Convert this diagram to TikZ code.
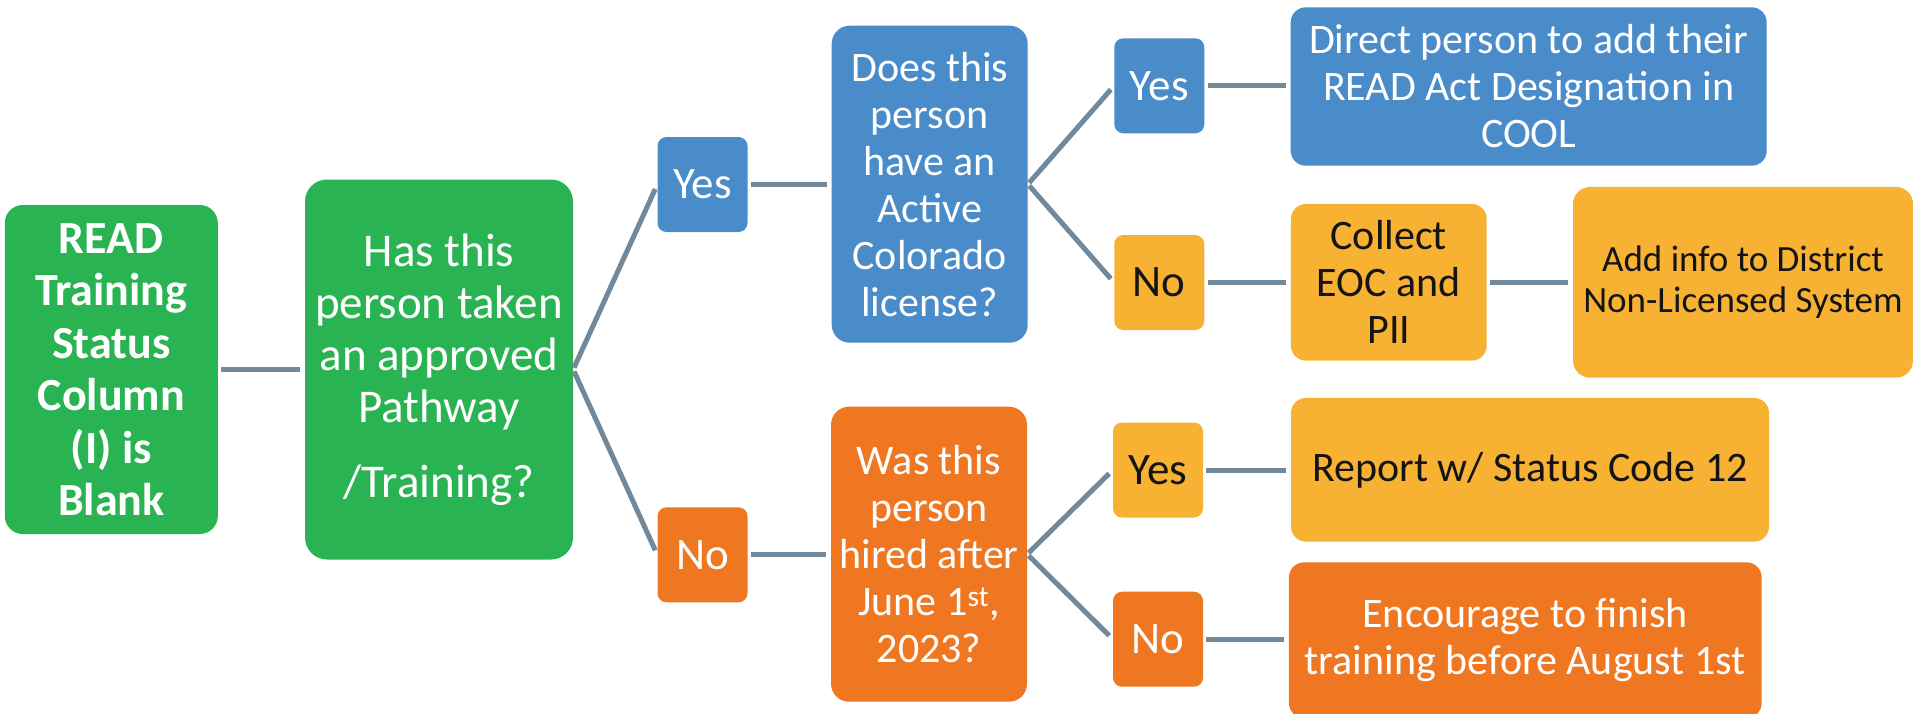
\documentclass[tikz,border=0pt]{standalone}
\usepackage{fontspec}
\setmainfont{Carlito}
\definecolor{boxgreen}{RGB}{41,179,82}
\definecolor{boxblue}{RGB}{74,139,201}
\definecolor{boxyellow}{RGB}{247,178,52}
\definecolor{boxorange}{RGB}{239,119,34}
\definecolor{linegray}{RGB}{114,137,156}
\definecolor{darktext}{RGB}{20,20,20}
\begin{document}
\begin{tikzpicture}[x=1pt,y=-1pt,
  box/.style={rectangle, rounded corners=18pt, inner sep=0pt, align=center,
              font=\fontsize{42}{47}\selectfont},
  tag/.style={box, rounded corners=9pt, minimum width=90pt, minimum height=95pt,
              font=\fontsize{45}{50}\selectfont},
  green/.style={fill=boxgreen, text=white},
  blue/.style={fill=boxblue, text=white},
  yellow/.style={fill=boxyellow, text=darktext},
  orange/.style={fill=boxorange, text=white},
  conn/.style={draw=linegray, line width=5pt, shorten <=3pt, shorten >=5pt}]
\useasboundingbox (0,0) rectangle (1913,713);

% first column: the starting state and the pathway question
\node[box, green, minimum width=213pt, minimum height=329pt,
      font=\fontsize{46}{52.5}\selectfont\bfseries] (read) at (111.3,369.5)
  {READ\\Training\\Status\\Column\\(I) is\\Blank};
\node[box, green, rounded corners=22pt, minimum width=268pt, minimum height=380pt,
      font=\fontsize{47}{52}\selectfont] (pathway) at (439,369.5)
  {Has this\\person taken\\an approved\\Pathway\\[23pt]/Training?};

% answers to the pathway question
\node[tag, blue] (yes1) at (702.5,184.5) {Yes};
\node[tag, orange] (no1) at (702.5,554.8) {No};

% second-level questions
\node[box, blue, minimum width=196pt, minimum height=317pt] (license) at (929.7,184.2)
  {Does this\\person\\have an\\Active\\Colorado\\license?};
\node[box, orange, minimum width=196pt, minimum height=295pt] (hired) at (929,554.2)
  {Was this\\person\\hired after\\June 1\textsuperscript{st},\\2023?};

% answers to the second-level questions
\node[tag, blue] (yes2) at (1159.3,85.8) {Yes};
\node[tag, yellow] (no2) at (1159.3,282.5) {No};
\node[tag, yellow] (yes3) at (1158,470) {Yes};
\node[tag, orange] (no3) at (1158,639.2) {No};

% actions
\node[box, blue, rounded corners=15pt, minimum width=476pt, minimum height=158.4pt] (direct) at (1528.7,86.5)
  {Direct person to add their\\READ Act Designation in\\COOL};
\node[box, yellow, rounded corners=15pt, minimum width=195.7pt, minimum height=156.7pt] (collect) at (1388.8,282.3)
  {Collect\\EOC and\\PII};
\node[box, yellow, rounded corners=17pt, minimum width=340pt, minimum height=190.7pt,
      font=\fontsize{37}{41}\selectfont] (addinfo) at (1743,282.3)
  {Add info to District\\Non-Licensed System};
\node[box, yellow, rounded corners=15pt, minimum width=478pt, minimum height=143.7pt] (report) at (1530,469.8)
  {Report w/ Status Code 12};
\node[box, orange, rounded corners=15pt, minimum width=472.7pt, minimum height=155.7pt] (encourage) at (1525.3,640.2)
  {Encourage to finish\\training before August 1st};

% connectors
\draw[conn] (read.east) -- (pathway.west);
\draw[conn, shorten <=2pt] (pathway.east) -- (yes1.west);
\draw[conn, shorten <=2pt] (pathway.east) -- (no1.west);
\draw[conn] (yes1.east) -- (yes1.east -| license.west);
\draw[conn] (no1.east) -- (no1.east -| hired.west);
\draw[conn, shorten <=2pt] (license.east) -- (yes2.west);
\draw[conn, shorten <=2pt] (license.east) -- (no2.west);
\draw[conn, shorten <=2pt] (hired.east) -- (yes3.west);
\draw[conn, shorten <=2pt] (hired.east) -- (no3.west);
\draw[conn] (yes2.east) -- (yes2.east -| direct.west);
\draw[conn] (no2.east) -- (no2.east -| collect.west);
\draw[conn] (collect.east) -- (collect.east -| addinfo.west);
\draw[conn] (yes3.east) -- (yes3.east -| report.west);
\draw[conn] (no3.east) -- (no3.east -| encourage.west);
\end{tikzpicture}
\end{document}
